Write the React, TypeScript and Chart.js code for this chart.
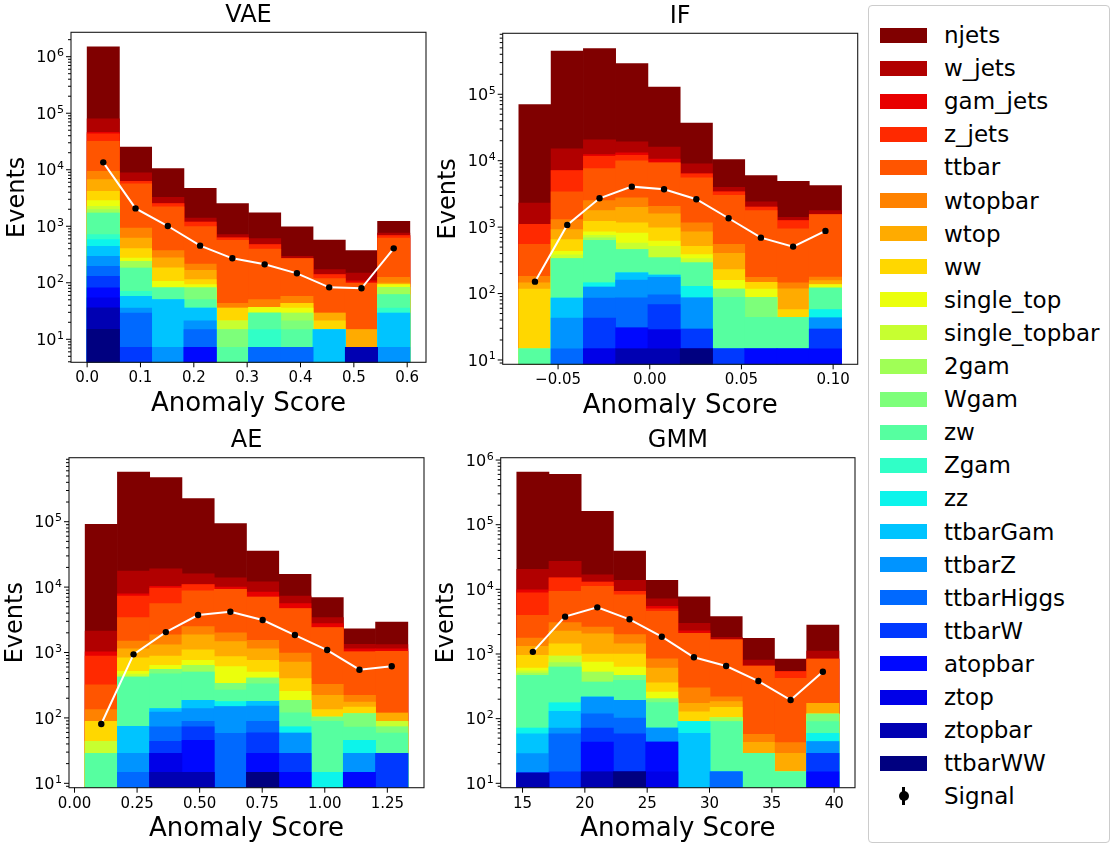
import React, { useEffect, useRef } from "react";
import { Chart, registerables } from "chart.js";

Chart.register(...registerables);

const FONT = "'DejaVu Sans', 'Liberation Sans', Arial, sans-serif";
Chart.defaults.font.family = FONT;

// Background processes, listed from the top of the stack down
const processes = [
  "njets", "w_jets", "gam_jets", "z_jets", "ttbar", "wtopbar", "wtop", "ww",
  "single_top", "single_topbar", "2gam", "Wgam", "zw", "Zgam", "zz",
  "ttbarGam", "ttbarZ", "ttbarHiggs", "ttbarW", "atopbar", "ztop", "ztopbar", "ttbarWW",
];

// ---------------- VAE ----------------
const vaeEdges = [0, 0.0605, 0.121, 0.1815, 0.242, 0.3025, 0.363, 0.4235, 0.484, 0.5445, 0.605];
const vaeCounts = [
  [1410000, 16500, 7240, 3310, 1800, 1116, 679, 401, 221, 465],
  [33200, 2520, 750, 220, 89, 131, 27, 32, 40, 73],
  [3100, 0, 0, 0, 0, 0, 0, 0, 10, 0],
  [11100, 640, 310, 196, 56, 77, 0, 21, 0, 72],
  [22500, 4680, 1830, 769, 522, 346, 209, 89, 84, 490],
  [2720, 312, 95, 49, 7.6, 13.4, 14.3, 0, 0, 26],
  [2520, 219, 92, 52, 0, 0, 0, 7.9, 7.6, 6.3],
  [1320, 127, 77, 21, 14.5, 0, 7.6, 6.5, 0, 0],
  [580, 35, 25, 12, 0, 7.6, 6.6, 0, 0, 9.7],
  [293, 0, 0, 0, 6.5, 0, 0, 0, 0, 0],
  [249, 57, 0, 0, 0, 0, 7.9, 0, 0, 21.4],
  [0, 0, 0, 31, 7.6, 0, 6.5, 0, 0, 0],
  [1008, 112, 31, 14.4, 7.2, 14.4, 7.6, 0, 0, 25.8],
  [130, 13, 0, 0, 0, 7.6, 0, 0, 0, 6.6],
  [137, 0, 0, 0, 0, 0, 0, 0, 0, 0],
  [149, 22, 43, 14.5, 0, 0, 0, 14.8, 0, 22],
  [98, 6.6, 7.2, 6.5, 0, 0, 0, 0, 0, 7.2],
  [66, 22, 0, 7.6, 0, 7.2, 7.2, 0, 0, 0],
  [49, 7.2, 0, 0, 0, 0, 0, 0, 0, 0],
  [27, 0, 0, 7.2, 0, 0, 0, 0, 0, 0],
  [18, 0, 0, 0, 0, 0, 0, 0, 0, 0],
  [21, 0, 0, 0, 0, 0, 0, 0, 7.2, 0],
  [15, 0, 0, 0, 0, 0, 0, 0, 0, 0],
];
const vaeSignal = [13500, 2070, 1010, 454, 271, 212, 147, 83, 80, 407];
const vaeXTicks = [0, 0.1, 0.2, 0.3, 0.4, 0.5, 0.6];
const vaeXTickLabels = ["0.0", "0.1", "0.2", "0.3", "0.4", "0.5", "0.6"];
const vaeYExponents = [1, 2, 3, 4, 5, 6];

// ---------------- IF ----------------
const ifEdges = [-0.0714, -0.0538, -0.0362, -0.0186, -0.001, 0.0166, 0.0342, 0.0518, 0.0694, 0.087, 0.1046];
const ifCounts = [
  [67700, 431000, 468000, 271000, 112000, 28000, 6410, 3570, 3500, 2450],
  [1210, 8000, 8200, 6100, 5400, 2620, 600, 390, 150, 230],
  [0, 0, 800, 1000, 1330, 0, 0, 0, 0, 0],
  [550, 3710, 4010, 2100, 0, 820, 370, 240, 318, 0],
  [368, 2090, 5090, 7250, 7210, 4350, 2470, 1594, 797, 1364],
  [37, 382, 730, 760, 480, 313, 145, 28, 28, 19],
  [28, 268, 550, 830, 607, 331, 176, 0, 60, 21],
  [102, 216, 373, 343, 359, 131, 71, 31, 13.3, 0],
  [0, 52, 93, 240, 98, 50, 41, 29, 0, 15],
  [0, 45, 61, 119, 172, 46, 0, 0, 0, 0],
  [0, 0, 60, 0, 0, 0, 0, 0, 0, 0],
  [0, 0, 0, 0, 0, 0, 29, 44, 0, 0],
  [14.7, 251, 488, 252, 155, 160, 73, 29.3, 29.3, 64],
  [0, 0, 0, 0, 0, 0, 0, 0, 0, 0],
  [0, 0, 19, 0, 0, 43, 0, 0, 0, 14.3],
  [0, 43, 0, 46, 13, 0, 0, 0, 0, 0],
  [0, 28, 40, 74, 80, 56.7, 0, 0, 0, 13.7],
  [0, 14.7, 43, 55.5, 28, 0, 0, 0, 0, 0],
  [0, 0, 28, 0, 39.5, 14.6, 14.7, 0, 0, 14.6],
  [0, 0, 0, 15.8, 0, 0, 0, 14.7, 14.7, 14.7],
  [0, 0, 14.7, 0, 13.8, 0, 0, 0, 0, 0],
  [0, 0, 0, 14.7, 14.7, 0, 0, 0, 0, 0],
  [0, 0, 0, 0, 0, 14.7, 0, 0, 0, 0],
];
const ifSignal = [151, 1080, 2720, 4070, 3720, 2630, 1360, 695, 509, 877];
const ifXTicks = [-0.05, 0, 0.05, 0.1];
const ifXTickLabels = ["\u22120.05", "0.00", "0.05", "0.10"];
const ifYExponents = [1, 2, 3, 4, 5];

// ---------------- AE ----------------
const aeEdges = [0.0424, 0.1714, 0.3003, 0.4293, 0.5582, 0.6872, 0.8162, 0.9451, 1.0741, 1.203, 1.332];
const aeCounts = [
  [89100, 557000, 452000, 209000, 79400, 23600, 8390, 3480, 980, 1610],
  [1110, 9680, 8800, 5100, 3900, 3590, 1730, 650, 190, 180],
  [135, 610, 620, 0, 750, 1350, 900, 360, 120, 100],
  [563, 3900, 4100, 2100, 0, 0, 0, 0, 0, 0],
  [188, 1910, 3710, 6320, 7250, 5520, 3700, 2074, 798, 921],
  [45, 360, 560, 620, 540, 400, 266, 104, 47, 0],
  [0, 308, 425, 770, 600, 381, 318, 88, 28, 30],
  [45, 317, 248, 341, 256, 255, 143, 31, 31, 0],
  [0, 48, 84, 122, 269, 97, 69, 0, 0, 0],
  [15, 45, 0, 0, 0, 0, 0, 0, 0, 16],
  [0, 0, 0, 133, 0, 0, 0, 0, 0, 0],
  [0, 0, 79, 0, 71, 74, 66, 14.3, 43.4, 14],
  [28.8, 348, 335, 318, 89, 154, 47, 74, 27.2, 30],
  [0, 0, 0, 0, 0, 0, 0, 0, 0, 0],
  [0, 0, 0, 0, 29, 0, 14, 14.7, 16.6, 0],
  [0, 45.7, 16, 47, 0, 27, 0, 0, 0, 0],
  [0, 14.1, 50, 50, 91, 63, 30, 0, 14.1, 0],
  [0, 14.7, 29, 16, 58, 29.3, 0, 0, 0, 0],
  [0, 0, 15, 27.4, 0, 30.6, 14.1, 0, 0, 28.8],
  [0, 0, 0, 30.7, 0, 14.1, 14.7, 0, 14.7, 0],
  [0, 0, 14.1, 0, 0, 0, 0, 0, 0, 0],
  [0, 0, 14.7, 14.7, 0, 0, 0, 0, 0, 0],
  [0, 0, 0, 0, 0, 14.7, 0, 0, 0, 0],
];
const aeSignal = [80.7, 937, 2050, 3740, 4210, 3140, 1850, 1090, 546, 615];
const aeXTicks = [0, 0.25, 0.5, 0.75, 1.0, 1.25];
const aeXTickLabels = ["0.00", "0.25", "0.50", "0.75", "1.00", "1.25"];
const aeYExponents = [1, 2, 3, 4, 5];

// ---------------- GMM ----------------
const gmmEdges = [14.54, 17.12, 19.71, 22.29, 24.88, 27.46, 30.04, 32.63, 35.21, 37.8, 40.38];
const gmmCounts = [
  [632000, 574000, 144000, 25400, 6640, 4710, 1970, 943, 304, 1690],
  [10500, 12000, 3800, 4490, 1700, 690, 160, 155, 0, 274],
  [990, 0, 0, 0, 450, 200, 0, 0, 0, 0],
  [4910, 5790, 1900, 1050, 440, 0, 0, 0, 111, 0],
  [2190, 6260, 8490, 6270, 3725, 1790, 1432, 595, 379, 663],
  [460, 790, 550, 550, 238, 128, 35, 14.3, 13.4, 0],
  [357, 820, 1060, 440, 248, 45, 33, 14, 14, 55],
  [346, 509, 252, 370, 101, 38, 46, 0, 0, 0],
  [59, 0, 224, 162, 55, 0, 0, 0, 0, 0],
  [40, 196, 0, 0, 0, 0, 0, 0, 0, 0],
  [40, 105, 156, 0, 0, 0, 14.3, 0, 0, 0],
  [0, 0, 0, 76, 26, 0, 0, 0, 0, 28.3],
  [396, 455, 152, 200, 105, 0, 74.6, 29.1, 15.1, 30.4],
  [0, 0, 0, 0, 0, 0, 0, 0, 0, 0],
  [13.2, 45, 0, 0, 0, 30.4, 0, 0, 0, 15.3],
  [29.7, 58.4, 0, 0, 0, 59.3, 0, 0, 0, 0],
  [14.3, 13.2, 97, 90, 28, 0, 0, 0, 0, 14.9],
  [0, 43.4, 47, 43.6, 0, 0, 15.1, 0, 0, 0],
  [0, 15, 28, 43.4, 0, 0, 0, 0, 0, 14],
  [0, 0, 28.5, 0, 28.5, 0, 0, 0, 0, 15.1],
  [0, 0, 0, 0, 15, 0, 0, 0, 0, 0],
  [14.4, 0, 15, 0, 0, 0, 0, 0, 0, 0],
  [0, 0, 0, 15, 0, 0, 0, 0, 0, 0],
];
const gmmSignal = [1080, 3780, 5270, 3440, 1850, 889, 652, 382, 194, 532];
const gmmXTicks = [15, 20, 25, 30, 35, 40];
const gmmXTickLabels = ["15", "20", "25", "30", "35", "40"];
const gmmYExponents = [1, 2, 3, 4, 5, 6];

// matplotlib "jet" colormap (256-entry lookup)
function jetColor(x: number): string {
  const idx = Math.min(255, Math.floor(x * 256));
  const t = idx / 255;
  const interp = (pts: number[][]) => {
    for (let i = 1; i < pts.length; i++) {
      if (t <= pts[i][0]) {
        const [x0, y0] = pts[i - 1];
        const [x1, y1] = pts[i];
        return y0 + ((t - x0) / (x1 - x0)) * (y1 - y0);
      }
    }
    return pts[pts.length - 1][1];
  };
  const r = interp([[0, 0], [0.35, 0], [0.66, 1], [0.89, 1], [1, 0.5]]);
  const g = interp([[0, 0], [0.125, 0], [0.375, 1], [0.64, 1], [0.91, 0], [1, 0]]);
  const b = interp([[0, 0.5], [0.11, 1], [0.34, 1], [0.65, 0], [1, 0]]);
  const c = (v: number) => Math.round(Math.max(0, Math.min(1, v)) * 255);
  return `rgb(${c(r)},${c(g)},${c(b)})`;
}

const processColors = processes.map((_, i) =>
  jetColor((processes.length - 1 - i) / (processes.length - 1))
);

type Box = { left: number; top: number; right: number; bottom: number };
type Rect = { left: number; top: number; width: number; height: number };
type Panel = {
  key: string;
  title: string;
  edges: number[];
  counts: number[][];
  signal: number[];
  xTicks: number[];
  xLabels: string[];
  yExps: number[];
  xRange: number[];
  yRange: number[];
  box: Box;
  canvas: Rect;
};

const panels: Panel[] = [
  {
    key: "vae", title: "VAE", edges: vaeEdges, counts: vaeCounts, signal: vaeSignal,
    xTicks: vaeXTicks, xLabels: vaeXTickLabels, yExps: vaeYExponents,
    xRange: [-0.03025, 0.63525], yRange: [3.918, 2.702e6],
    box: { left: 71, top: 32.3, right: 426, bottom: 362.3 },
    canvas: { left: 0, top: 0, width: 440, height: 426 },
  },
  {
    key: "if", title: "IF", edges: ifEdges, counts: ifCounts, signal: ifSignal,
    xTicks: ifXTicks, xLabels: ifXTickLabels, yExps: ifYExponents,
    xRange: [-0.0802, 0.1134], yRange: [8.61, 8.28e5],
    box: { left: 502.7, top: 33.3, right: 857.7, bottom: 364.3 },
    canvas: { left: 430, top: 0, width: 438, height: 426 },
  },
  {
    key: "ae", title: "AE", edges: aeEdges, counts: aeCounts, signal: aeSignal,
    xTicks: aeXTicks, xLabels: aeXTickLabels, yExps: aeYExponents,
    xRange: [-0.0221, 1.3965], yRange: [8.57, 9.52e5],
    box: { left: 69, top: 457.7, right: 424, bottom: 787.7 },
    canvas: { left: 0, top: 420, width: 440, height: 428 },
  },
  {
    key: "gmm", title: "GMM", edges: gmmEdges, counts: gmmCounts, signal: gmmSignal,
    xTicks: gmmXTicks, xLabels: gmmXTickLabels, yExps: gmmYExponents,
    xRange: [13.25, 41.67], yRange: [8.55, 1.087e6],
    box: { left: 500.7, top: 457.7, right: 855, bottom: 787.7 },
    canvas: { left: 430, top: 420, width: 438, height: 428 },
  },
];

const TICK_FONT = 15;
const EXP_FONT = 11;
const BASE_FONT = 16;
const TITLE_FONT = 24;
const XLABEL_FONT = 26;
const YLABEL_FONT = 24;
const LEGEND_FONT = 23;

function HistPanel({ p }: { p: Panel }) {
  const ref = useRef<HTMLCanvasElement>(null);

  useEffect(() => {
    const canvas = ref.current;
    if (!canvas) return;
    const { box, canvas: c } = p;
    const centers = p.edges.slice(0, -1).map((e, k) => (e + p.edges[k + 1]) / 2);
    const n = processes.length;
    const BASE = 1;

    // each layer is drawn from the axis floor up to its cumulative stack height;
    // lower layers are painted over higher ones
    const running = centers.map(() => 0);
    const barSets: any[] = [];
    for (let s = 0; s < n; s++) {
      const pi = n - 1 - s;
      const row = p.counts[pi];
      for (let k = 0; k < centers.length; k++) running[k] += row[k];
      const tops = running.slice();
      barSets.push({
        type: "bar",
        label: processes[pi],
        order: 1,
        data: centers.map((x, k) => ({ x, y: [BASE, Math.max(BASE, tops[k])] })),
        backgroundColor: processColors[pi],
        borderWidth: 0,
        grouped: false,
        barPercentage: 1,
        categoryPercentage: 1,
      });
    }

    const signalSet = {
      type: "line",
      label: "Signal",
      order: 0,
      data: centers.map((x, k) => ({ x, y: p.signal[k] })),
      borderColor: "#ffffff",
      borderWidth: 2,
      pointRadius: 3.2,
      pointBackgroundColor: "#000000",
      pointBorderColor: "#000000",
      pointBorderWidth: 0,
      tension: 0,
      fill: false,
    };

    const decor = {
      id: "panelDecor",
      afterDatasetsDraw(chart: any) {
        const { ctx, chartArea: a, scales } = chart;
        const xs = scales.x;
        const ys = scales.y;
        ctx.save();
        // frame
        ctx.strokeStyle = "#1a1a1a";
        ctx.lineWidth = 1.1;
        ctx.strokeRect(a.left, a.top, a.right - a.left, a.bottom - a.top);
        // x ticks
        ctx.lineWidth = 1;
        ctx.strokeStyle = "#000";
        ctx.beginPath();
        for (const v of p.xTicks) {
          const px = xs.getPixelForValue(v);
          ctx.moveTo(px, a.bottom);
          ctx.lineTo(px, a.bottom + 5);
        }
        // y major + minor ticks
        const [ymin, ymax] = p.yRange;
        const e0 = Math.floor(Math.log10(ymin));
        const e1 = Math.ceil(Math.log10(ymax));
        for (let e = e0; e <= e1; e++) {
          for (let m = 1; m <= 9; m++) {
            const v = m * Math.pow(10, e);
            if (v < ymin || v > ymax) continue;
            const py = ys.getPixelForValue(v);
            const len = m === 1 ? 5 : 3;
            ctx.moveTo(a.left - len, py);
            ctx.lineTo(a.left, py);
          }
        }
        ctx.stroke();
        // y tick labels: 10 with raised exponent
        ctx.fillStyle = "#000";
        for (const e of p.yExps) {
          const py = ys.getPixelForValue(Math.pow(10, e));
          const xr = a.left - 7;
          ctx.font = `${EXP_FONT}px ${FONT}`;
          const ew = ctx.measureText(String(e)).width;
          ctx.textAlign = "left";
          ctx.textBaseline = "alphabetic";
          ctx.fillText(String(e), xr - ew, py - 0.5);
          ctx.font = `${BASE_FONT}px ${FONT}`;
          ctx.textAlign = "right";
          ctx.textBaseline = "middle";
          ctx.fillText("10", xr - ew - 0.5, py + 1.5);
        }
        // panel title
        ctx.font = `${TITLE_FONT}px ${FONT}`;
        ctx.textAlign = "center";
        ctx.textBaseline = "middle";
        ctx.fillText(p.title, (a.left + a.right) / 2, a.top - 16.5);
        ctx.restore();
      },
    };

    const yTitlePad = Math.max(0, box.left - 53.5 - c.left - (YLABEL_FONT * 1.2) / 2);
    const xTitlePad = c.top + c.height - (box.bottom + 41.5) - (XLABEL_FONT * 1.2) / 2;

    const chart = new Chart(canvas, {
      type: "bar",
      data: { datasets: [signalSet, ...barSets] as any },
      options: {
        animation: false,
        responsive: false,
        devicePixelRatio: 1,
        events: [],
        layout: {
          padding: {
            left: 0,
            top: box.top - c.top,
            right: c.left + c.width - box.right,
            bottom: 0,
          },
        },
        plugins: {
          legend: { display: false },
          tooltip: { enabled: false },
          title: { display: false },
        },
        scales: {
          x: {
            type: "linear",
            min: p.xRange[0],
            max: p.xRange[1],
            offset: false,
            bounds: "data",
            grid: { display: false, drawTicks: true, tickLength: 5, offset: false },
            border: { display: false },
            ticks: {
              font: { family: FONT, size: TICK_FONT },
              color: "#000",
              padding: 2,
              autoSkip: false,
              maxRotation: 0,
              minRotation: 0,
              callback: (_v: any, i: number) => p.xLabels[i] ?? "",
            },
            afterBuildTicks: (s: any) => {
              s.ticks = p.xTicks.map((v) => ({ value: v }));
            },
            afterFit: (s: any) => {
              s.height = c.top + c.height - box.bottom;
            },
            title: {
              display: true,
              text: "Anomaly Score",
              color: "#000",
              font: { family: FONT, size: XLABEL_FONT },
              padding: { top: 0, bottom: xTitlePad },
            },
          },
          y: {
            type: "logarithmic",
            min: p.yRange[0],
            max: p.yRange[1],
            grid: { display: false, drawTicks: false },
            border: { display: false },
            ticks: { display: false },
            afterFit: (s: any) => {
              s.width = box.left - c.left;
            },
            title: {
              display: true,
              text: "Events",
              color: "#000",
              font: { family: FONT, size: YLABEL_FONT },
              padding: { top: yTitlePad, bottom: 0 },
            },
          },
        },
      } as any,
      plugins: [decor],
    });

    return () => chart.destroy();
  }, [p]);

  return (
    <canvas
      ref={ref}
      width={p.canvas.width}
      height={p.canvas.height}
      style={{
        position: "absolute",
        left: p.canvas.left,
        top: p.canvas.top,
        width: p.canvas.width,
        height: p.canvas.height,
      }}
    />
  );
}

function Legend() {
  const boxLeft = 868;
  const boxTop = 5;
  const firstRow = 35;
  const step = 33.1;
  const inner = (y: number) => y - boxTop - 1;
  return (
    <div
      style={{
        position: "absolute",
        left: boxLeft,
        top: boxTop,
        width: 242,
        height: 838,
        boxSizing: "border-box",
        border: "1px solid #cccccc",
        borderRadius: 4,
        background: "#ffffff",
        fontFamily: FONT,
        fontSize: LEGEND_FONT,
        color: "#000",
      }}
    >
      {processes.map((name, i) => {
        const cy = inner(firstRow + step * i);
        return (
          <React.Fragment key={name}>
            <div
              style={{
                position: "absolute",
                left: 11,
                top: cy - 7.5,
                width: 47,
                height: 15,
                background: processColors[i],
              }}
            />
            <div
              style={{
                position: "absolute",
                left: 75,
                top: cy - 15,
                height: 30,
                lineHeight: "30px",
                whiteSpace: "nowrap",
              }}
            >
              {name}
            </div>
          </React.Fragment>
        );
      })}
      {(() => {
        const cy = inner(firstRow + step * processes.length);
        return (
          <>
            <div
              style={{
                position: "absolute",
                left: 33.3,
                top: cy - 9,
                width: 2.5,
                height: 18,
                background: "#000",
              }}
            />
            <div
              style={{
                position: "absolute",
                left: 29.5,
                top: cy - 5,
                width: 10,
                height: 10,
                borderRadius: "50%",
                background: "#000",
              }}
            />
            <div
              style={{
                position: "absolute",
                left: 75,
                top: cy - 15,
                height: 30,
                lineHeight: "30px",
                whiteSpace: "nowrap",
              }}
            >
              Signal
            </div>
          </>
        );
      })()}
    </div>
  );
}

export default function App() {
  return (
    <div
      style={{
        position: "absolute",
        left: 0,
        top: 0,
        width: 1113,
        height: 848,
        background: "#ffffff",
        overflow: "hidden",
      }}
    >
      {panels.map((p) => (
        <HistPanel key={p.key} p={p} />
      ))}
      <Legend />
    </div>
  );
}
